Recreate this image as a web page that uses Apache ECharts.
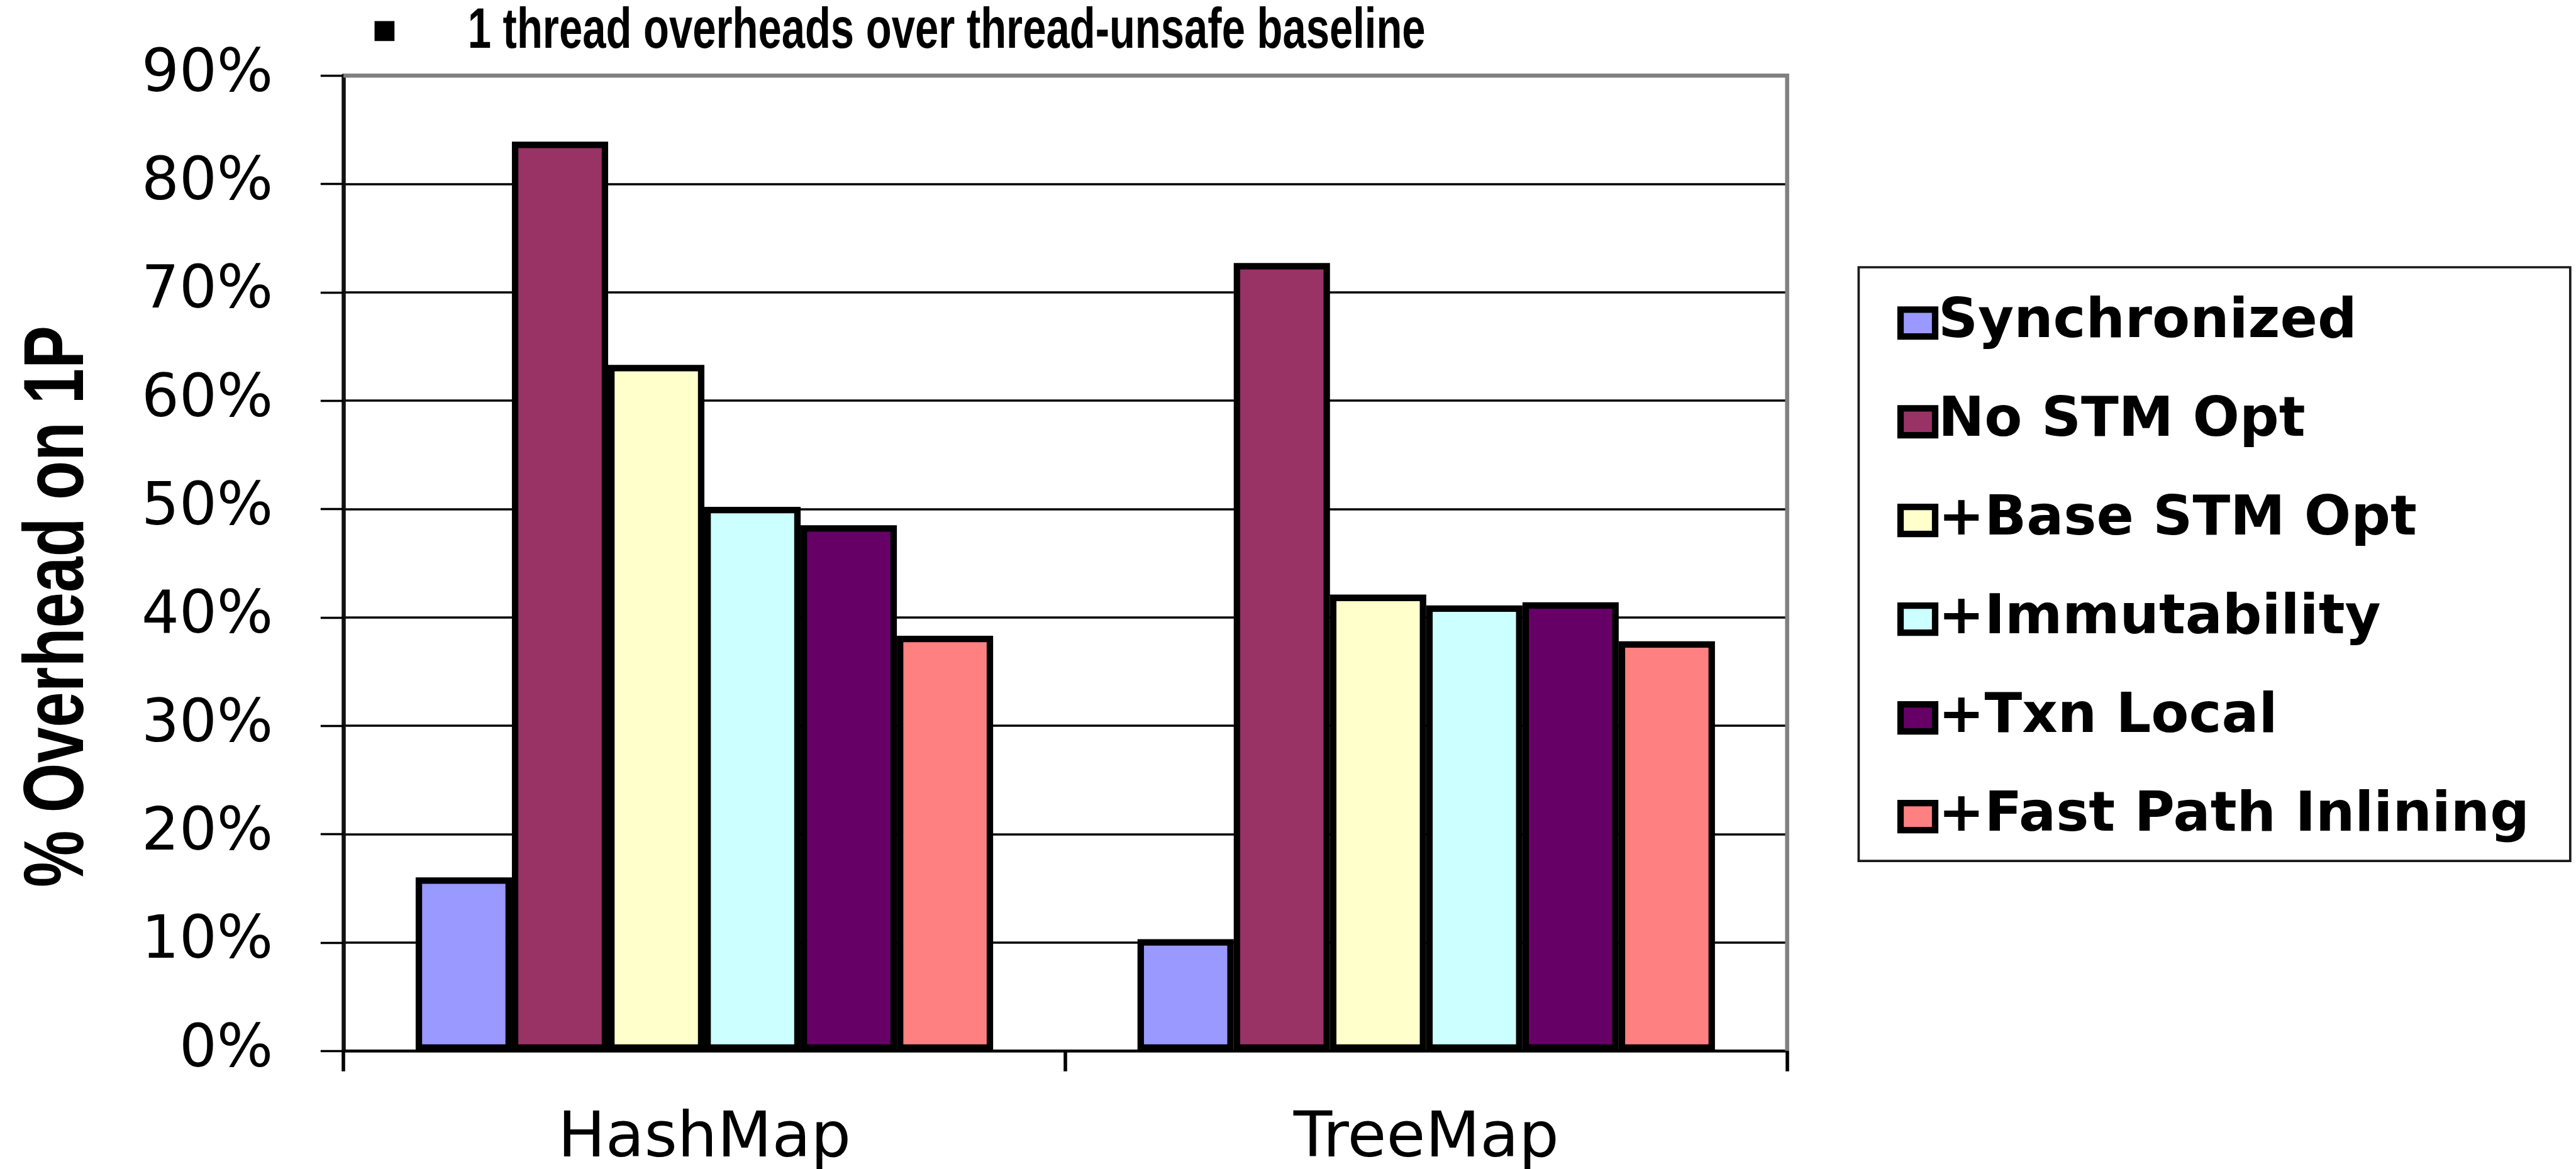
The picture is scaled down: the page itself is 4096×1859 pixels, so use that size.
<!DOCTYPE html>
<html>
<head>
<meta charset="utf-8">
<title>1 thread overheads over thread-unsafe baseline</title>
<script src="https://cdn.jsdelivr.net/npm/echarts@6/dist/echarts.min.js"></script>
<style>
  html, body { margin: 0; padding: 0; background: #ffffff; }
  #chart { width: 4096px; height: 1859px; }
</style>
</head>
<body>
<div id="chart"></div>
<script>
// ---- data -------------------------------------------------------------
const categories = ['HashMap', 'TreeMap'];
const seriesNames = ['Synchronized', 'No STM Opt', '+Base STM Opt', '+Immutability', '+Txn Local', '+Fast Path Inlining'];
const synchronizedOverhead = [16.0, 10.3];
const noStmOptOverhead = [83.9, 72.7];
const baseStmOptOverhead = [63.3, 42.1];
const immutabilityOverhead = [50.2, 41.1];
const txnLocalOverhead = [48.5, 41.4];
const fastPathInliningOverhead = [38.3, 37.8];
const yMin = 0;
const yMax = 90;
const yStep = 10;
const titleText = '1 thread overheads over thread-unsafe baseline';
const yAxisTitle = '% Overhead on 1P';

// ---- styling ----------------------------------------------------------
const seriesValues = [synchronizedOverhead, noStmOptOverhead, baseStmOptOverhead,
                      immutabilityOverhead, txnLocalOverhead, fastPathInliningOverhead];
const seriesColors = ['#9999FF', '#993366', '#FFFFCC', '#CCFFFF', '#660066', '#FF8080'];

// layout is designed on a 4394 x 1994 canvas and scaled to the window
const S = 0.932;
const p = v => v * S;

const NARROW = '"Liberation Sans Narrow", "Liberation Sans", Arial, sans-serif';
const WIDE = '"DejaVu Sans", Verdana, sans-serif';

// width of a string in a given font, used to condense the narrow headings
const measureCtx = document.createElement('canvas').getContext('2d');
function textWidth(text, weight, size, family) {
  measureCtx.font = weight + ' ' + size + 'px ' + family;
  return measureCtx.measureText(text).width;
}

// plot rectangle
const plotL = 586, plotT = 129, plotR = 3049, plotB = 1793;

const titleSize = p(97);
const titleScale = p(1634) / textWidth(titleText, 'bold', titleSize, NARROW);
const yNameSize = p(145);
const yNameScale = p(958) / textWidth(yAxisTitle, 'bold', yNameSize, NARROW);

const chart = echarts.init(document.getElementById('chart'), null, { renderer: 'canvas' });

chart.setOption({
  animation: false,
  backgroundColor: '#ffffff',
  grid: {
    left: p(plotL), top: p(plotT),
    width: p(plotR - plotL), height: p(plotB - plotT),
    containLabel: false,
    outerBoundsMode: 'none',
    show: false
  },
  legend: {
    orient: 'vertical',
    left: p(3237), top: p(504),
    padding: 0,
    icon: 'rect',
    itemWidth: p(59), itemHeight: p(46),
    itemGap: p(74), itemTextGap: p(46),
    itemStyle: { borderColor: '#000000', borderWidth: p(11) },
    textStyle: { fontFamily: WIDE, fontWeight: 'bold', fontSize: p(94), color: '#000000' },
    selectedMode: false,
    data: seriesNames
  },
  xAxis: {
    type: 'category',
    data: categories,
    boundaryGap: true,
    axisLine: { show: true, lineStyle: { color: '#000000', width: p(5) } },
    axisTick: { show: true, inside: false, length: p(35), lineStyle: { color: '#000000', width: p(6) } },
    axisLabel: { color: '#000000', fontFamily: WIDE, fontSize: p(108), margin: p(98) },
    splitLine: { show: false }
  },
  yAxis: {
    type: 'value',
    min: yMin, max: yMax, interval: yStep,
    axisLine: { show: true, lineStyle: { color: '#111111', width: p(7) } },
    axisTick: { show: true, inside: false, length: p(39), lineStyle: { color: '#000000', width: p(3.5) } },
    axisLabel: { formatter: '{value}%', color: '#000000', fontFamily: WIDE, fontSize: p(101), margin: p(120) },
    splitLine: { show: true, lineStyle: { color: '#000000', width: p(4) } }
  },
  series: seriesNames.map((name, i) => ({
    name: name,
    type: 'bar',
    data: seriesValues[i],
    barGap: '0%',
    barCategoryGap: '20%',
    itemStyle: { color: seriesColors[i], borderColor: '#000000', borderWidth: p(11) },
    emphasis: { disabled: true }
  })),
  graphic: [
    // plot frame on top and right
    {
      type: 'polyline', z: 10,
      shape: { points: [[p(plotL), p(plotT)], [p(plotR), p(plotT)], [p(plotR), p(plotB)]] },
      style: { stroke: '#808080', lineWidth: p(7), fill: null }
    },
    // legend frame
    {
      type: 'rect', z: 10,
      shape: { x: p(3171), y: p(456), width: p(1214), height: p(1013) },
      style: { fill: null, stroke: '#1a1a1a', lineWidth: p(4) }
    },
    // heading bullet
    {
      type: 'rect',
      shape: { x: p(639), y: p(36), width: p(34), height: p(34) },
      style: { fill: '#000000' }
    },
    // heading
    {
      type: 'text',
      x: p(798), y: p(55),
      scaleX: titleScale,
      style: {
        text: titleText, fill: '#000000',
        fontFamily: NARROW, fontWeight: 'bold', fontSize: titleSize,
        align: 'left', verticalAlign: 'middle'
      }
    },
    // y axis title
    {
      type: 'text',
      x: p(102), y: p(1035),
      rotation: Math.PI / 2,
      scaleX: yNameScale,
      style: {
        text: yAxisTitle, fill: '#000000',
        fontFamily: NARROW, fontWeight: 'bold', fontSize: yNameSize,
        align: 'center', verticalAlign: 'middle'
      }
    }
  ]
});
</script>
</body>
</html>
